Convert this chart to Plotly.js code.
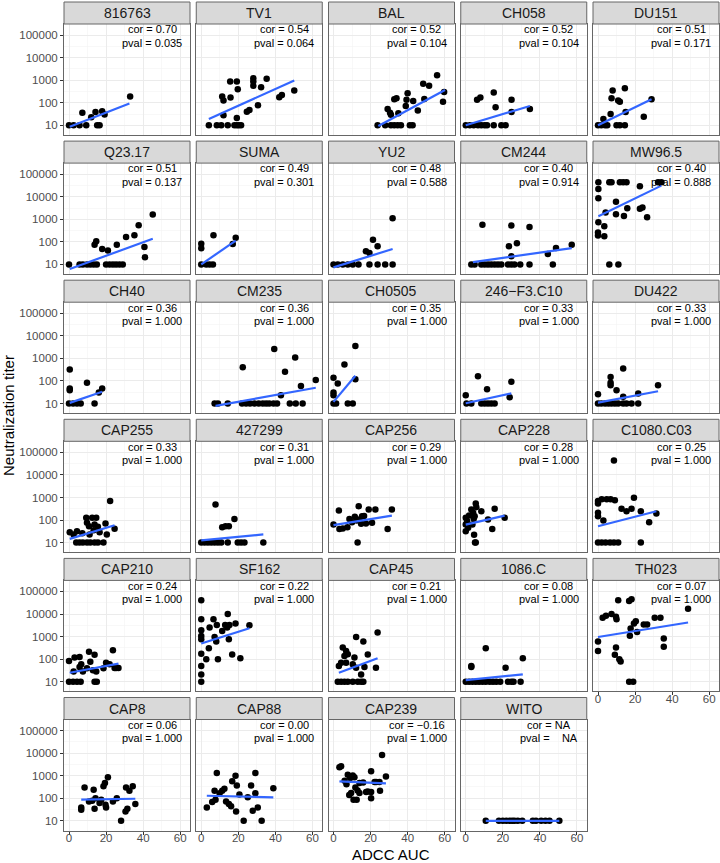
<!DOCTYPE html>
<html><head><meta charset="utf-8">
<script src="https://cdn.plot.ly/plotly-3.0.1.min.js"></script>
<style>html,body{margin:0;padding:0;background:#fff}</style>
</head><body><div id="chart" style="width:720px;height:863px"></div>
<script>
// ---------- DATA ----------
const panels = ["816763","TV1","BAL","CH058","DU151",
  "Q23.17","SUMA","YU2","CM244","MW96.5",
  "CH40","CM235","CH0505","246\u2212F3.C10","DU422",
  "CAP255","427299","CAP256","CAP228","C1080.C03",
  "CAP210","SF162","CAP45","1086.C","TH023",
  "CAP8","CAP88","CAP239","WITO"];
const corText = ["0.70","0.54","0.52","0.52","0.51","0.51","0.49","0.48","0.40","0.40",
  "0.36","0.36","0.35","0.33","0.33","0.33","0.31","0.29","0.28","0.25",
  "0.24","0.22","0.21","0.08","0.07","0.06","0.00","\u22120.16","NA"];
const pvalText = ["0.035","0.064","0.104","0.104","0.171","0.137","0.301","0.588","0.914","0.888",
  "1.000","1.000","1.000","1.000","1.000","1.000","1.000","1.000","1.000","1.000",
  "1.000","1.000","1.000","1.000","1.000","1.000","1.000","1.000","\u00a0\u00a0\u00a0NA"];
const adccX = [
  [0,2.5,5.7,9.3,15.2,16.5,7.2,12,14.3,17.9,19.2,33],
  [4.1,8.4,10.8,14.3,17.9,19.2,20.3,21.5,12,11.3,12,15.8,15.6,19.2,19.7,19.2,24.6,26,28.1,28.1,28.1,30.6,32.3,35.3,42.1,43.5,50.2],
  [23.8,27.9,31,32.8,34.6,36.4,41.2,42.7,29.2,30.5,31,32.8,34,35,39,39.4,40,43,45.5,48.4,51.6,49,55.9,59.7,59.1],
  [0,2.2,4.3,6.6,8.4,10.2,11.5,15.1,19.2,21.5,6.1,7.9,15.1,16.1,24.7,24.7,34.6],
  [0,1.8,3.8,5,10,11.8,14.5,2.9,6.8,7.9,7.3,10.9,11.8,14.5,14.9,24.7,28.9],
  [0,5.7,7.5,9.7,11.5,13.3,15,20,21.9,23.7,25.4,27.2,29,13.8,14.7,17.9,21,25.8,30.8,35.3,37.6,40.7,41,45.2],
  [0,2.7,4.5,6.3,0,0,6.6,17,18.6],
  [0,2.3,5,7.7,10.4,13.5,19.4,23.8,27.9,31.9,17.5,19.4,21.3,23.8,31.9],
  [3,4.8,8.4,10.2,12,13.8,15.6,17.4,19.2,22.8,24.6,26.3,29.4,34.4,47,9,24.6,34.4,23.3,27.6,24.6,44.3,48.7,57.2],
  [0.2,0.2,0.2,6.1,7.3,11.8,13.6,15.4,22.6,32.4,34.2,9.7,4.1,9.7,14,15.8,22.6,24,26.5,0.2,3.4,0,0,3.4,6.1,11],
  [0,2.2,4.3,6.3,13.8,0.4,0.4,0.4,9.7,16.1,17.9],
  [7.2,9,14.3,22,24.2,26.3,28.7,31,33.2,35,36.7,39,40.9,47.8,51,54.7,22.4,39.4,45.2,50.7,53.8,43,61.8],
  [0,1.4,7.7,10.4,0,0,0,2.3,5.9,11.8,11.8],
  [0.4,3,8.4,10.2,12,13.8,15.6,0,6.6,11.5,24.6,23.7],
  [0,1.8,3.8,5.6,7.3,9.1,10.9,13.6,15.4,18.1,21.7,0,6.8,6.8,6.8,10,13.6,13.6,21.7,32.4],
  [3.9,5.7,7.5,9.7,11.5,13.8,15.6,18.6,0.4,4.3,2.5,7.2,9.3,9.7,11.1,12.5,14.7,10.8,13.3,13.8,15.6,16.5,19.7,20.4,22.2,24.6],
  [0,1.8,3.6,5.4,7.2,9,10.8,14.3,19.7,21.5,23.3,33.5,7.7,11.3,13.1,14.9,17.9],
  [0,2.9,3.2,5,7.5,8.6,10,11.5,12.5,13,13.6,14,14.9,15.4,16.5,17.5,19,20.8,22.6,29.2,31.5],
  [0,0,0,0.7,1.3,1.8,3,4,4.8,5.4,5.7,4.3,3.6,4.5,5,5.4,8.4,12,14.3,15.6,21],
  [8.6,0,0,2,4.7,6.8,9.1,19.4,12.7,15.4,18.1,23.1,31.5,27.6,0,0,2.9,0,2,4.1,6.5,8.6,10.9,23.1],
  [0,2.2,4.3,6.3,13.8,15,0,3,5.7,6.6,5.7,2.5,7.5,9.7,10.8,13.8,11.5,12.9,14.7,18.6,20,21.9,23.7,24.6,25.4,26.7],
  [0,0,0,0,0,0,0,0,0,2.7,4.5,4.1,6.6,7.2,8.4,8.1,9,11.3,14.3,12.9,14,15.2,18.5,14.9,16.7,21.1,26],
  [2.3,4.1,5.9,7.7,10.4,13.1,14.9,16.1,2.9,5,6.8,7.7,5.9,4.1,6.8,10.4,11.3,12.2,14.9,16.7,12.2,16.1,18.5,22.9,23.8],
  [0,1.8,3.6,5.4,7.2,9,10.8,12.9,14.7,16.5,18.6,22.8,24.6,25.8,29.6,3,3,10.8,21.5,30.8],
  [10.9,16.8,18.1,2.5,4.3,7.3,9.7,10,20.4,19.4,24.7,26.5,30.6,33.7,48.6,17.6,21.1,17.2,0,0,9.7,9.1,11.5,12.2,35.5,35.5,16.8,19],
  [6.6,6.6,8.4,10.8,13.3,14.3,13.8,12.5,18.6,19.4,21,19.7,20,16.5,17.4,23.7,25.8,28.1,30.5,31.5,30.8,32.6,34.4,35.8],
  [3,5.9,7.7,7.2,8.4,9.9,11.3,12.5,13.4,14.9,16.1,16.7,18.5,19.2,18.8,20.6,22.9,25.1,26.9,27.8,29.2,29.2,30.5,32.6,38.9],
  [3.2,4.1,7.7,9,10.4,11.3,6,7,8.5,9.5,10.8,12.5,11.8,13,14,14,16,17.6,18.5,20.3,20.3,20.3,22.2,23,24.8,25.1,26.2,28.3],
  [10.8,17.9,20,21.9,23.7,25.1,26.3,28.1,30.5,36.2,37.9,40.7,43,45.2,50.5]
];
const titerY = [
  [10,10,10,10,10,10,36,23,39,42,30,187],
  [10,10,10,10,10,10,10,10,28,187,125,170,870,870,400,21,40,48,1230,870,560,77,490,1150,174,223,350],
  [10,10,10,10,10,10,10,10,53,36,29,144,160,34,72,134,263,120,45,690,560,148,1660,302,110],
  [10,10,10,10,10,10,10,10,10,10,134,170,283,63,134,39,53],
  [10,10,10,10,10,10,10,19,32,350,158,125,112,440,39,24,144],
  [10,10,10,10,10,10,10,10,10,10,10,10,10,75,105,48,41,75,163,194,540,59,21,1620],
  [10,10,10,10,83,52,195,80,150],
  [10,10,10,10,10,10,10,10,10,10,38,32,125,63,1100],
  [10,10,10,10,10,10,10,10,10,10,10,10,10,10,10,570,525,460,63,86,23,29,54,74],
  [44000,22000,8500,44000,44000,44000,44000,44000,29000,44000,44000,6000,2000,1650,1400,3100,2900,3300,1230,740,490,260,190,175,10,10],
  [10,10,10,10,10,325,39,46,83,31,46],
  [10,10,10,10,10,10,10,10,10,10,10,10,10,10,10,10,400,2600,255,1080,59,23,109],
  [10,10,10,10,138,31,23,77,540,3500,120],
  [10,10,10,10,10,10,10,23,163,43,92,19],
  [10,10,10,10,10,10,10,10,10,10,10,26,150,83,65,39,360,20,28,65],
  [10,10,10,10,10,10,10,10,29,32,23,26,125,75,23,125,125,53,35,63,50,29,70,23,690,41],
  [10,10,10,10,10,10,10,10,10,10,10,10,490,48,53,53,110],
  [63,263,40,42,48,110,80,140,95,10,410,105,68,148,150,70,295,75,295,40,295],
  [125,63,32,90,45,160,295,210,148,540,370,113,63,22,10,10,245,105,40,315,125],
  [44000,690,540,830,830,830,760,970,315,245,315,245,195,80,210,148,95,10,10,10,10,10,10,10],
  [10,10,10,10,10,10,83,117,125,59,45,28,28,39,215,155,77,32,28,39,70,59,245,40,40,40],
  [41000,5900,1900,1070,760,175,50,21,10,98,2500,300,5900,970,3300,600,98,1780,10000,3300,2500,3300,3800,760,162,110,3200],
  [10,10,10,10,10,10,10,10,50,325,230,163,138,70,70,59,117,42,21,45,970,600,162,42,1500],
  [10,10,10,10,10,10,10,10,10,10,10,10,10,10,10,50,45,300,42,110],
  [41000,38000,45000,6900,8300,10000,7600,5900,4800,3800,3400,3400,6900,6900,17000,2300,1600,1100,600,230,325,155,100,78,830,350,10,10],
  [39,31,300,72,240,100,34,77,340,470,850,51,39,61,86,72,100,10,26,34,300,215,340,55],
  [39,68,86,215,1320,165,215,265,72,55,44,560,1000,370,26,145,10,110,370,28,1320,165,39,10,280],
  [2350,2600,1100,790,1020,850,600,420,140,170,85,85,300,220,470,170,500,190,200,190,100,1580,520,520,520,215,8300,910],
  [10,10,10,10,10,10,10,10,10,10,10,10,10,10,10]
];
// fitted lm line ends (x start, x end) and (y start, y end)
const fitX = [[0.4,32.6],[4.1,50.2],[24.2,60.2],[0,34.6],[0,28.9],[0.4,45.2],[0,18.6],[0,31.9],[3.9,57.2],[0.2,34.2],
  [0.4,17.9],[7.7,61.8],[0,11.8],[0,24.6],[0,32.4],[0.4,24.6],[0,33.5],[0,31.5],[0,21],[0,31.5],
  [0.4,26.7],[0,26],[2.9,23.8],[0,30.8],[0,48.6],[6.6,35.8],[3,38.9],[3.2,28.3],[10.8,50.5]];
const fitY = [[8.7,92],[19,970],[9.3,370],[10,72],[10,144],[6.2,138],[10,113],[7.4,48],[12.6,53],[1350,31000],
  [10.7,33],[7.9,50],[11.8,170],[10.3,28],[10.9,35],[14.6,59],[12.6,23],[59,158],[63,158],[53,245],
  [25,63],[490,2350],[25,110],[11.8,21],[960,4200],[86,95],[129,109],[560,460],[10,10]];
const yTicks = [10,100,1000,10000,100000];
const yTickText = ["10","100","1000","10000","100000"];
const xTicks = [0,20,40,60];

// ---------- LAYOUT ----------
const W = 720, H = 863;
const colLeft = [64, 196.25, 328.5, 460.75, 593];
const panelW = 126, panelH = 111, stripH = 22, rowTop0 = 24, rowPitch = 139.1;
const tickFont = {family: "Liberation Sans, Arial, sans-serif", size: 11.5, color: "#4D4D4D"};
const borderCol = "#666666";

const traces = [], shapes = [], annotations = [];
const layout = {
  width: W, height: H, margin: {l:0, r:0, t:0, b:0},
  paper_bgcolor: "#fff", plot_bgcolor: "#fff", showlegend: false,
  font: {family: "Liberation Sans, Arial, sans-serif", color: "#000"}
};
const minorY = [1.5,2.5,3.5,4.5].map(e => Math.pow(10, e));

panels.forEach((name, i) => {
  const r = Math.floor(i/5), c = i % 5;
  const n = i === 0 ? "" : String(i+1);
  const top = rowTop0 + r*rowPitch;
  const left = colLeft[c];
  const bottomAxis = (r === 5) || (i === 24);
  layout["xaxis"+n] = {
    domain: [left/W, (left+panelW)/W], anchor: "y"+n,
    range: [-2.7, 65.3], tickvals: xTicks, ticktext: xTicks.map(String),
    showticklabels: bottomAxis, ticks: bottomAxis ? "outside" : "", ticklen: 3, tickcolor: "#333",
    ticklabelstandoff: -6,
    tickfont: tickFont, showline: true, mirror: true, linecolor: borderCol, linewidth: 1,
    showgrid: true, gridcolor: "#EBEBEB", gridwidth: 1, zeroline: false, fixedrange: true,
    minor: {tickvals: [10,30,50], showgrid: true, gridcolor: "#F4F4F4", gridwidth: 0.6, ticks: ""}
  };
  layout["yaxis"+n] = {
    domain: [1-(top+panelH)/H, 1-top/H], anchor: "x"+n, type: "log",
    range: [0.57, 5.49], tickvals: yTicks, ticktext: yTickText,
    showticklabels: c === 0, ticks: c === 0 ? "outside" : "", ticklen: 3, tickcolor: "#333",
    tickfont: tickFont, showline: true, mirror: true, linecolor: borderCol, linewidth: 1,
    showgrid: true, gridcolor: "#EBEBEB", gridwidth: 1, zeroline: false, fixedrange: true,
    minor: {tickvals: minorY, showgrid: true, gridcolor: "#F4F4F4", gridwidth: 0.6, ticks: ""}
  };
  traces.push({
    type: "scatter", mode: "markers", x: adccX[i], y: titerY[i],
    xaxis: "x"+n, yaxis: "y"+n, cliponaxis: false,
    marker: {color: "#000", size: 6.5}, hoverinfo: "x+y"
  });
  traces.push({
    type: "scatter", mode: "lines", x: fitX[i], y: fitY[i],
    xaxis: "x"+n, yaxis: "y"+n, line: {color: "#3366FF", width: 2.2}, hoverinfo: "skip"
  });
  shapes.push({
    type: "rect", xref: "paper", yref: "paper", layer: "above",
    x0: left/W, x1: (left+panelW)/W, y0: 1-top/H, y1: 1-(top-stripH)/H,
    fillcolor: "#D9D9D9", line: {color: borderCol, width: 1}
  });
  annotations.push({
    xref: "paper", yref: "paper", x: (left+panelW/2)/W, y: 1-(top-stripH/2)/H,
    text: name, showarrow: false, xanchor: "center", yanchor: "middle",
    font: {size: 14, color: "#1A1A1A"}
  });
  annotations.push({
    xref: "x"+n+" domain", yref: "y"+n+" domain", x: 0.70, y: 0.952,
    text: "cor = " + corText[i], showarrow: false, xanchor: "center", yanchor: "middle",
    font: {size: 11, color: "#000"}
  });
  annotations.push({
    xref: "x"+n+" domain", yref: "y"+n+" domain", x: 0.70, y: 0.832,
    text: "pval = " + pvalText[i], showarrow: false, xanchor: "center", yanchor: "middle",
    font: {size: 11, color: "#000"}
  });
});

annotations.push({
  xref: "paper", yref: "paper", x: 391/W, y: 1-854/H, text: "ADCC AUC",
  showarrow: false, xanchor: "center", yanchor: "middle", font: {size: 15, color: "#000"}
});
annotations.push({
  xref: "paper", yref: "paper", x: 8/W, y: 1-416/H, text: "Neutralization titer",
  textangle: -90, showarrow: false, xanchor: "center", yanchor: "middle", font: {size: 15, color: "#000"}
});
layout.shapes = shapes;
layout.annotations = annotations;

Plotly.newPlot("chart", traces, layout, {displayModeBar: false, staticPlot: true});
</script>
</body></html>
